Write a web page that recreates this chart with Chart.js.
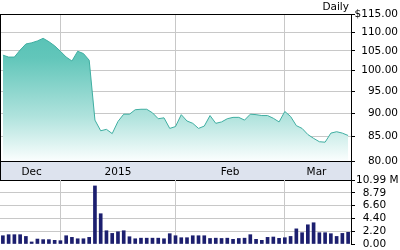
<!DOCTYPE html>
<html>
<head>
<meta charset="utf-8">
<script src="https://cdn.jsdelivr.net/npm/chart.js@4.4.1/dist/chart.umd.min.js"></script>
<style>
    html, body { margin: 0; padding: 0; background: #fff; }
    #wrap { position: relative; width: 400px; height: 250px; overflow: hidden; }
    #priceBox { position: absolute; left: 0; top: 0; width: 400px; height: 181px; }
    #volBox { position: absolute; left: 0; top: 170px; width: 400px; height: 84px; }
</style>
</head>
<body>
<div id="wrap">
    <div id="priceBox"><canvas id="priceChart"></canvas></div>
    <div id="volBox"><canvas id="volChart"></canvas></div>
</div>
<script>
// daily closes, mid Dec 2014 -> mid Mar 2015 (one per trading day)
const closes = [
    103.9, 103.4, 103.4, 105.2, 106.8, 107.1, 107.6, 108.3, 107.4, 106.3,
    104.9, 103.4, 102.4, 104.9, 104.3, 102.6, 88.5, 86.2, 86.5, 85.6,
    88.2, 89.8, 89.8, 90.8, 90.9, 90.9, 90.1, 88.8, 89.0, 86.7,
    87.1, 89.7, 88.3, 87.8, 86.7, 87.2, 89.5, 87.8, 88.1, 88.8,
    89.1, 89.1, 88.5, 89.8, 89.7, 89.5, 89.5, 88.9, 88.1, 90.4,
    89.3, 87.3, 86.7, 85.4, 84.6, 83.9, 83.8, 85.7, 86.0, 85.7, 85.2
];

// volume in millions
const volumes = [
    1.42, 1.6, 1.6, 1.6, 1.3, 0.35, 0.85, 0.75, 0.75, 0.63,
    0.57, 1.42, 1.14, 0.9, 0.9, 1.14, 9.97, 5.2, 2.28, 1.82,
    2.1, 2.28, 1.25, 0.9, 1.0, 1.0, 1.0, 1.0, 0.9, 1.77,
    1.42, 1.08, 1.08, 1.42, 1.42, 1.42, 0.95, 1.0, 0.95, 1.0,
    0.8, 0.95, 1.0, 1.6, 0.8, 0.63, 1.14, 1.2, 0.97, 1.08,
    1.3, 2.6, 1.94, 3.3, 3.65, 1.94, 1.94, 1.77, 1.3, 1.82, 2.0
];

const monthLabels = ["Dec", "2015", "Feb", "Mar"];
const monthEnds = [10, 30, 49]; // last trading day of Dec, Jan, Feb
const priceTicks = [80, 85, 90, 95, 100, 105, 110, 115];
const volumeTicks = [0, 2.20, 4.40, 6.60, 8.79, 10.99];

const n = closes.length;
const bounds = [0, ...monthEnds, n - 1];
const labelPos = monthLabels.map((_, k) => (bounds[k] + bounds[k + 1]) / 2);
const volMax = volumeTicks[volumeTicks.length - 1];

const font = { family: "'DejaVu Sans', Verdana, sans-serif", size: 10.5 };
const gridGrey = "#c8c8c8";
const bandHeight = 19;

// === frame, label band and "Daily" caption ===
const priceFrame = {
    id: "priceFrame",
    beforeDraw(chart) {
        const { ctx, chartArea: a } = chart;
        ctx.save();
        ctx.fillStyle = "#dde3ee";
        ctx.fillRect(a.left, a.bottom, a.right - a.left, bandHeight);
        ctx.restore();
    },
    afterDraw(chart) {
        const { ctx, chartArea: a } = chart;
        ctx.save();
        ctx.strokeStyle = "#000";
        ctx.lineWidth = 1;
        ctx.beginPath();
        ctx.moveTo(a.left, a.top + 0.5);
        ctx.lineTo(a.right + 1, a.top + 0.5);
        ctx.moveTo(a.left + 0.5, a.top);
        ctx.lineTo(a.left + 0.5, a.bottom + bandHeight + 1);
        ctx.moveTo(a.left, a.bottom + 0.5);
        ctx.lineTo(a.right + 1, a.bottom + 0.5);
        ctx.moveTo(a.left, a.bottom + bandHeight + 0.5);
        ctx.lineTo(a.right + 1, a.bottom + bandHeight + 0.5);
        ctx.moveTo(a.right + 0.5, a.top);
        ctx.lineTo(a.right + 0.5, a.bottom + bandHeight + 1);
        ctx.stroke();

        ctx.fillStyle = "#000";
        ctx.font = "10.5px 'DejaVu Sans', Verdana, sans-serif";
        ctx.textAlign = "right";
        ctx.textBaseline = "alphabetic";
        ctx.fillText("Daily", a.right - 2, 10);
        ctx.restore();
    }
};

const fillGradient = (c) => {
    const { ctx, chartArea } = c.chart;
    if (!chartArea) return "#8fd6cd";
    const g = ctx.createLinearGradient(0, chartArea.top, 0, chartArea.bottom);
    g.addColorStop(0, "#4fbfb2");
    g.addColorStop(0.3, "#62c6ba");
    g.addColorStop(0.7, "#b0e3dd");
    g.addColorStop(1, "#fbfefe");
    return g;
};

new Chart(document.getElementById("priceChart"), {
    type: "line",
    data: {
        datasets: [{
            data: closes.map((v, i) => ({ x: i, y: v })),
            borderColor: "#3faea1",
            borderWidth: 1,
            pointRadius: 0,
            tension: 0,
            fill: "start",
            backgroundColor: fillGradient
        }]
    },
    options: {
        responsive: true,
        maintainAspectRatio: false,
        animation: false,
        devicePixelRatio: 1,
        layout: { padding: { left: 0, right: 2, top: 14, bottom: 1 } },
        plugins: { legend: { display: false }, tooltip: { enabled: false } },
        scales: {
            x: {
                type: "linear",
                min: -0.5,
                max: n - 0.5,
                afterBuildTicks: (s) => {
                    s.ticks = [...monthEnds, ...labelPos].sort((a, b) => a - b).map(v => ({ value: v }));
                },
                afterFit: (s) => { s.height = bandHeight; },
                grid: {
                    color: (c) => (c.tick && monthEnds.includes(c.tick.value)) ? gridGrey : "rgba(0,0,0,0)",
                    drawTicks: false
                },
                border: { display: false },
                ticks: {
                    font, color: "#000", padding: 5, autoSkip: false, maxRotation: 0,
                    callback: (v) => {
                        const k = labelPos.indexOf(v);
                        return k < 0 ? "" : monthLabels[k];
                    }
                }
            },
            y: {
                type: "logarithmic",
                position: "right",
                min: priceTicks[0],
                max: priceTicks[priceTicks.length - 1],
                afterBuildTicks: (s) => { s.ticks = priceTicks.map(v => ({ value: v })); },
                afterFit: (s) => { s.width = 47; },
                grid: { color: gridGrey, tickColor: "#000", tickLength: 4 },
                border: { color: "#000" },
                ticks: {
                    font, color: "#000", padding: 2, crossAlign: "far", autoSkip: false,
                    callback: (v) => (v === 115 ? "$" : "") + Number(v).toFixed(2)
                }
            }
        }
    },
    plugins: [priceFrame]
});

new Chart(document.getElementById("volChart"), {
    type: "bar",
    data: {
        datasets: [{
            data: volumes.map((v, i) => ({ x: i, y: v })),
            backgroundColor: "#1c1f6f",
            barThickness: 3
        }]
    },
    options: {
        responsive: true,
        maintainAspectRatio: false,
        animation: false,
        devicePixelRatio: 1,
        layout: { padding: { left: 0, right: 2, top: 10, bottom: 10 } },
        plugins: { legend: { display: false }, tooltip: { enabled: false } },
        scales: {
            x: {
                type: "linear",
                offset: false,
                min: -0.5,
                max: n - 0.5,
                afterBuildTicks: (s) => { s.ticks = monthEnds.map(v => ({ value: v })); },
                afterFit: (s) => { s.height = 0; },
                grid: { color: gridGrey, drawTicks: false, offset: false },
                border: { display: false },
                ticks: { display: false }
            },
            y: {
                position: "right",
                min: 0,
                max: volMax,
                afterBuildTicks: (s) => { s.ticks = volumeTicks.map(v => ({ value: v })); },
                afterFit: (s) => { s.width = 47; },
                grid: {
                    color: (c) => (c.tick && (c.tick.value === 0 || c.tick.value === volMax)) ? "rgba(0,0,0,0)" : gridGrey,
                    tickColor: "#000",
                    tickLength: 4
                },
                border: { color: "#000" },
                ticks: {
                    font, color: "#000", padding: 1, crossAlign: "near", autoSkip: false,
                    callback: (v) => v === volMax ? v.toFixed(2) + " M" : "\u2007" + Number(v).toFixed(2)
                }
            }
        }
    }
});
</script>
</body>
</html>
